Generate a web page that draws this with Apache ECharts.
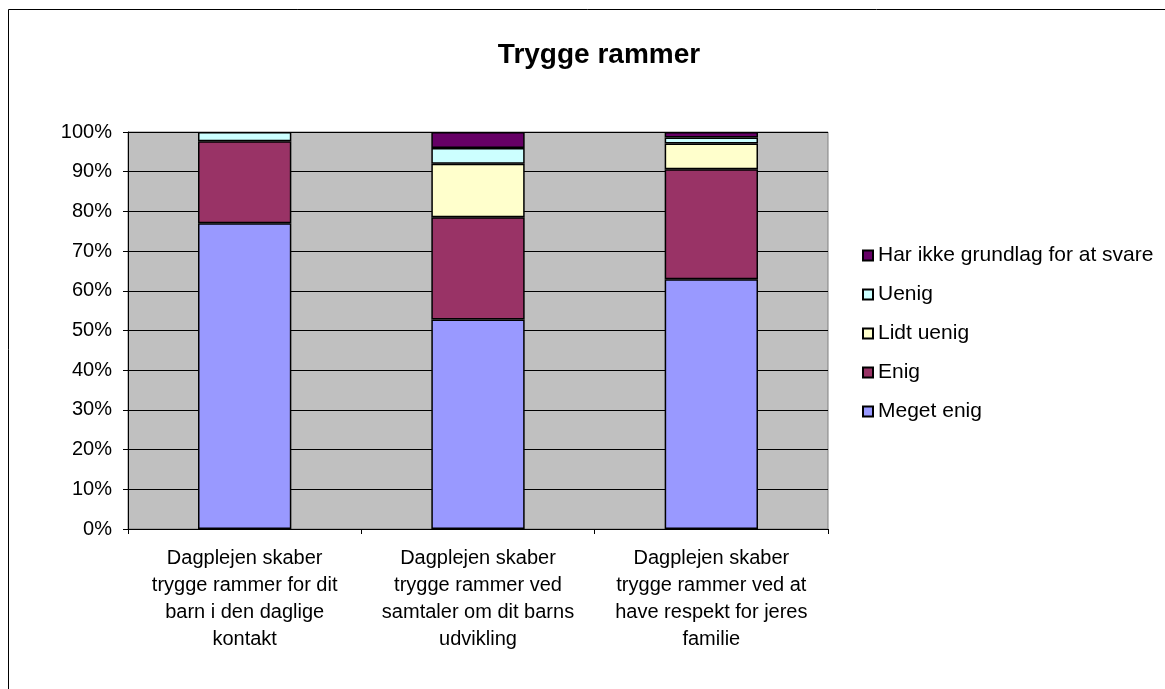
<!DOCTYPE html>
<html>
<head>
<meta charset="utf-8">
<script src="https://cdn.jsdelivr.net/npm/echarts@6/dist/echarts.min.js"></script>
<style>
  html, body { margin: 0; padding: 0; background: #fff; }
  #chart { width: 1165px; height: 689px; }
</style>
</head>
<body>
<div id="chart"></div>
<script>
// kategorier (x-akse)
var categories = [
  'Dagplejen skaber\ntrygge rammer for dit\nbarn i den daglige\nkontakt',
  'Dagplejen skaber\ntrygge rammer ved\nsamtaler om dit barns\nudvikling',
  'Dagplejen skaber\ntrygge rammer ved at\nhave respekt for jeres\nfamilie'
]
// procentandele pr. svar (null = ingen svar)
var megetEnig = [77.0, 52.8, 62.9]
var enig = [20.7, 25.7, 27.7]
var lidtUenig = [null, 13.5, 6.5]
var uenig = [2.3, 4.0, 1.5]
var harIkke = [null, 4.0, 1.4]

var seriesNames = ['Meget enig', 'Enig', 'Lidt uenig', 'Uenig', 'Har ikke grundlag for at svare']
var seriesData = [megetEnig, enig, lidtUenig, uenig, harIkke]
var seriesColors = ['#9999FF', '#993366', '#FFFFCC', '#CCFFFF', '#660066']

var font = '"Liberation Sans", Arial, sans-serif'

var chart = echarts.init(document.getElementById('chart'))

var series = seriesNames.map(function (name, i) {
  return {
    name: name,
    type: 'bar',
    stack: 'total',
    barWidth: '40%',
    data: seriesData[i],
    itemStyle: { color: seriesColors[i], borderColor: '#000', borderWidth: 1.5 }
  }
})

chart.setOption({
  animation: false,
  title: {
    text: 'Trygge rammer',
    left: 594,
    top: 36,
    textAlign: 'center',
    textStyle: { fontFamily: font, fontSize: 28, fontWeight: 'bold', color: '#000' }
  },
  graphic: [{
    type: 'rect',
    shape: { x: 8.5, y: 9.5, width: 1200, height: 720 },
    style: { fill: 'none', stroke: '#000', lineWidth: 1 },
    silent: true
  }],
  legend: {
    orient: 'vertical',
    left: 857,
    top: 240,
    itemWidth: 10,
    itemHeight: 10,
    itemGap: 18,
    icon: 'rect',
    data: seriesNames.slice().reverse(),
    textStyle: { fontFamily: font, fontSize: 21, color: '#000' }
  },
  grid: {
    left: 128,
    top: 132,
    width: 700,
    height: 397,
    show: true,
    backgroundColor: '#C0C0C0',
    borderColor: '#808080',
    borderWidth: 1
  },
  xAxis: {
    type: 'category',
    data: categories,
    axisLine: { lineStyle: { color: '#000' } },
    axisTick: { show: true, length: 5, lineStyle: { color: '#000' } },
    axisLabel: {
      interval: 0,
      margin: 16,
      lineHeight: 27,
      fontFamily: font,
      fontSize: 20,
      color: '#000',
      align: 'center'
    }
  },
  yAxis: {
    type: 'value',
    min: 0,
    max: 100,
    interval: 10,
    axisLine: { show: true, lineStyle: { color: '#000' } },
    axisTick: { show: true, length: 5, lineStyle: { color: '#000' } },
    splitLine: { lineStyle: { color: '#000', width: 1 } },
    axisLabel: {
      formatter: '{value}%',
      margin: 16,
      fontFamily: font,
      fontSize: 20,
      color: '#000'
    }
  },
  series: series
})
</script>
</body>
</html>
